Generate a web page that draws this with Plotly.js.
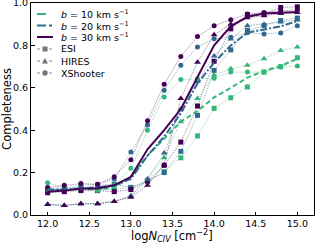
<!DOCTYPE html>
<html>
<head>
<meta charset="utf-8">
<script src="https://cdn.plot.ly/plotly-3.0.1.min.js"></script>
<style>html,body{margin:0;padding:0;background:#fff}#plot{width:315px;height:243px}</style>
</head>
<body>
<div id="plot"></div>
<script>
const logN = [12.0,12.2,12.4,12.6,12.8,13.0,13.2,13.4,13.6,13.8,14.0,14.2,14.4,14.6,14.8,15.0];

// mean completeness per Doppler parameter
const mean_b10 = [0.120,0.117,0.123,0.120,0.130,0.180,0.280,0.360,0.440,0.490,0.555,0.600,0.648,0.680,0.703,0.737];
const mean_b20 = [0.120,0.120,0.125,0.130,0.140,0.170,0.280,0.370,0.480,0.620,0.720,0.800,0.860,0.875,0.890,0.915];
const mean_b30 = [0.110,0.115,0.125,0.125,0.140,0.180,0.310,0.400,0.500,0.650,0.800,0.890,0.935,0.950,0.955,0.958];

// ESI
const esi_b10 = [0.115,0.115,0.120,0.120,0.120,0.130,0.160,0.205,0.270,0.373,0.503,0.553,0.604,0.674,0.700,0.742];
const esi_b20 = [0.120,0.120,0.125,0.140,0.145,0.130,0.160,0.200,0.300,0.470,0.682,0.779,0.870,0.893,0.917,0.929];
const esi_b30 = [0.105,0.110,0.115,0.115,0.110,0.120,0.160,0.234,0.344,0.514,0.725,0.878,0.945,0.950,0.979,0.982];
// HIRES
const hires_b10 = [0.050,0.045,0.053,0.053,0.064,0.090,0.170,0.270,0.440,0.550,0.660,0.690,0.706,0.737,0.776,0.792];
const hires_b20 = [0.050,0.045,0.053,0.053,0.064,0.090,0.170,0.292,0.500,0.630,0.750,0.830,0.893,0.900,0.910,0.920];
const hires_b30 = [0.050,0.045,0.053,0.053,0.064,0.084,0.140,0.237,0.550,0.720,0.850,0.900,0.930,0.940,0.950,0.955];
// XShooter
const xsh_b10 = [0.152,0.130,0.130,0.115,0.140,0.220,0.400,0.557,0.639,0.643,0.645,0.674,0.674,0.674,0.698,0.703];
const xsh_b20 = [0.120,0.125,0.140,0.145,0.170,0.297,0.425,0.589,0.706,0.792,0.831,0.838,0.860,0.854,0.859,0.893];
const xsh_b30 = [0.130,0.140,0.148,0.145,0.180,0.261,0.445,0.617,0.748,0.842,0.893,0.921,0.948,0.955,0.963,0.967];

const bLabels = ['<i>b</i> = 10 km s<sup>−1</sup>','<i>b</i> = 20 km s<sup>−1</sup>','<i>b</i> = 30 km s<sup>−1</sup>'];
const instLabels = ['ESI','HIRES','XShooter'];
const xTitle = 'log<i>N</i><sub><i>CIV</i></sub> [cm<sup>−2</sup>]';

const cols = ['#35b779','#31688e','#440154'];
const colsA = ['rgba(53,183,121,0.55)','rgba(49,104,142,0.55)','rgba(68,1,84,0.55)'];
const symbols = ['square','triangle-up','circle'];
const meanDash = ['5px,3px','7px,2px,2px,2px','solid'];

const inst = [[esi_b10,esi_b20,esi_b30],[hires_b10,hires_b20,hires_b30],[xsh_b10,xsh_b20,xsh_b30]];
const means = [mean_b10,mean_b20,mean_b30];

const traces = [];
for (let i = 0; i < 3; i++) {
  for (let b = 0; b < 3; b++) {
    traces.push({
      x: logN, y: inst[i][b], type: 'scatter', mode: 'lines+markers', name: instLabels[i],
      line: {color: colsA[b], width: 0.8, dash: '1.5px,1px'},
      marker: {symbol: symbols[i], size: i === 1 ? 6 : 5, color: cols[b]},
      hoverinfo: 'skip'
    });
  }
}
for (let b = 0; b < 3; b++) {
  traces.push({
    x: logN, y: means[b], type: 'scatter', mode: 'lines', name: bLabels[b],
    line: {color: cols[b], width: 2, dash: meanDash[b]}
  });
}

// ---- compact legend (key samples in paper coordinates) ----
const plotL = 31, plotW = 283, plotB = 215, plotH = 212;
const px = v => (v - plotL) / plotW;
const py = v => (plotB - v) / plotH;
const rowY = [14, 25.5, 37, 49, 61, 73];
const keyX0 = 37, keyX1 = 53, keyXm = 45, textX = 59;
const dashCss = ['dash', 'dashdot', 'solid'];
const shapes = [];
const annotations = [];
for (let b = 0; b < 3; b++) {
  shapes.push({type: 'line', xref: 'paper', yref: 'paper', x0: px(keyX0), x1: px(keyX1),
               y0: py(rowY[b]), y1: py(rowY[b]), line: {color: cols[b], width: 2, dash: dashCss[b]}});
  annotations.push({xref: 'paper', yref: 'paper', x: px(textX), y: py(rowY[b]), xanchor: 'left', yanchor: 'middle',
                    text: bLabels[b], showarrow: false, font: {size: 9.5}});
}
for (let i = 0; i < 3; i++) {
  const yy = py(rowY[3 + i]);
  shapes.push({type: 'line', xref: 'paper', yref: 'paper', x0: px(keyX0), x1: px(keyX1), y0: yy, y1: yy,
               line: {color: '#888', width: 1, dash: 'dot'}});
  const base = {xref: 'paper', yref: 'paper', xsizemode: 'pixel', ysizemode: 'pixel',
                xanchor: px(keyXm), yanchor: yy, fillcolor: '#777', line: {width: 0}};
  if (i === 0) shapes.push(Object.assign({type: 'rect', x0: -2.5, x1: 2.5, y0: -2.5, y1: 2.5}, base));
  if (i === 1) shapes.push(Object.assign({type: 'path', path: 'M -3,-2.5 L 3,-2.5 L 0,3 Z'}, base));
  if (i === 2) shapes.push(Object.assign({type: 'circle', x0: -2.7, x1: 2.7, y0: -2.7, y1: 2.7}, base));
  annotations.push({xref: 'paper', yref: 'paper', x: px(textX), y: yy, xanchor: 'left', yanchor: 'middle',
                    text: instLabels[i], showarrow: false, font: {size: 9.5}});
}
// x-axis title placed as an annotation to control its vertical position
annotations.push({xref: 'paper', yref: 'paper', x: px(172), y: py(227), xanchor: 'center', yanchor: 'top',
                  text: xTitle, showarrow: false, font: {size: 11.5}, borderpad: 0});

const layout = {
  width: 315, height: 243,
  margin: {l: 31, r: 1, t: 3, b: 28},
  paper_bgcolor: '#fff', plot_bgcolor: '#fff',
  font: {family: 'DejaVu Sans', size: 9.5, color: '#000'},
  showlegend: false,
  shapes: shapes, annotations: annotations,
  xaxis: {range: [11.8, 15.2], tickvals: [12.0,12.5,13.0,13.5,14.0,14.5,15.0],
          ticktext: ['12.0','12.5','13.0','13.5','14.0','14.5','15.0'],
          ticks: 'inside', ticklen: 3.5, tickcolor: '#000', showline: true, linecolor: '#000', linewidth: 1,
          mirror: true, showgrid: false, zeroline: false, ticklabeloverflow: 'allow'},
  yaxis: {range: [0, 1], tickvals: [0,0.2,0.4,0.6,0.8,1.0],
          ticktext: ['0.0','0.2','0.4','0.6','0.8','1.0'],
          ticks: 'inside', ticklen: 3.5, tickcolor: '#000', showline: true, linecolor: '#000', linewidth: 1,
          mirror: true, showgrid: false, zeroline: false, ticklabeloverflow: 'allow',
          title: {text: 'Completeness', font: {size: 11.5}, standoff: 4}}
};

Plotly.newPlot('plot', traces, layout, {displayModeBar: false, staticPlot: true});
</script>
</body>
</html>
